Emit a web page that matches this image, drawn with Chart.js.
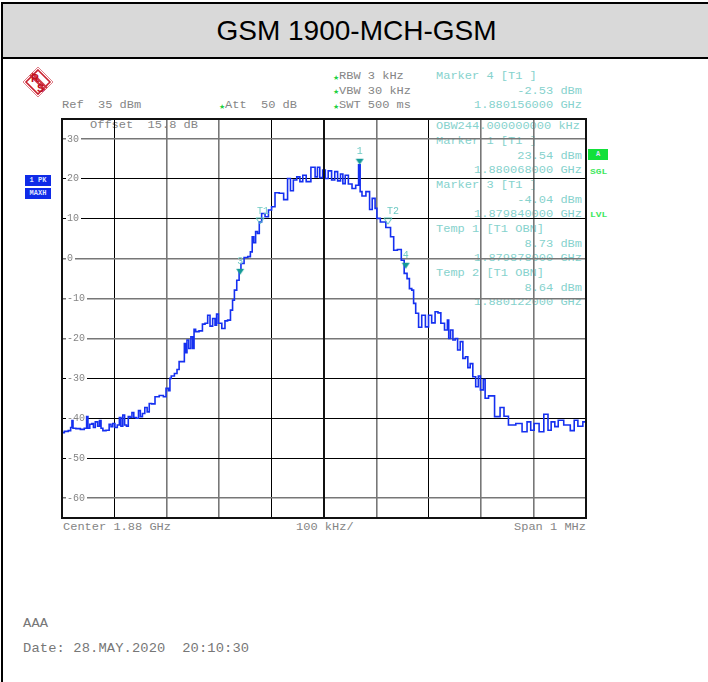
<!DOCTYPE html>
<html>
<head>
<meta charset="utf-8">
<title>GSM 1900-MCH-GSM</title>
<script src="https://cdn.jsdelivr.net/npm/chart.js@4/dist/chart.umd.min.js"></script>
<style>
html, body { margin: 0; padding: 0; background: #fff; }
#page { position: relative; width: 708px; height: 682px; overflow: hidden; }
#header { position: absolute; left: 1px; top: 2px; width: 707px; height: 53px; background: #d9d9d9;
  border-top: 2px solid #000; border-bottom: 2px solid #000; border-left: 2px solid #000; box-sizing: content-box;
  text-align: center; font: 28px "Liberation Sans", sans-serif; line-height: 53px; color: #000; }
#leftline { position: absolute; left: 1px; top: 2px; width: 2px; height: 680px; background: #000; }
#chart { position: absolute; left: 0; top: 0; z-index: 2; }
#logo { position: absolute; left: 22px; top: 66px; }
.t { position: absolute; white-space: pre; font: 10px "Liberation Mono", monospace; line-height: 12px; color: #858585;
  transform: translateY(-50%) scaleX(1.2); transform-origin: left center; z-index: 1; }
.r { transform-origin: right center; }
.c { color: #86d2cd; }
.star { position: absolute; font: 7px "DejaVu Sans", sans-serif; color: #22d040; line-height: 8px; transform: translateY(-50%); }
.big { font-size: 13px; line-height: 14px; color: #777; transform: translateY(-50%) scaleX(1.06); letter-spacing: 0.1px; }
.box { position: absolute; background: #0f2be8; color: #dfe4ff; font: bold 7px "Liberation Mono", monospace; text-align: center; }
.g { color: #3fe860; font: bold 8px "Liberation Mono", monospace; position: absolute; line-height: 8px; transform: translateY(-50%) scaleX(1.2); transform-origin: left center; }
</style>
</head>
<body>
<div id="page">
  <div id="header">GSM 1900-MCH-GSM</div>
  <div id="leftline"></div>
  <svg id="logo" width="32" height="32" viewBox="0 0 32 32">
    <path d="M16 1 L31 16 L16 31 L1 16 Z" fill="#fff" stroke="#e0808a" stroke-width="1"/>
    <path d="M16 4 L28 16 L16 28 L4 16 Z" fill="none" stroke="#c8202e" stroke-width="1.6"/>
    <path d="M9 8 L24 23" stroke="#d03a46" stroke-width="5"/>
    <path d="M9 8 L24 23" stroke="#fff" stroke-width="0.8" stroke-dasharray="1.4 1.4"/>
    <text x="9" y="16" font-family="Liberation Sans" font-weight="bold" font-size="11" fill="#c0101e">R</text>
    <text x="15" y="26" font-family="Liberation Sans" font-weight="bold" font-size="11" fill="#c0101e">S</text>
  </svg>
  <div class="box" style="left:25px;top:175px;width:26px;height:11px;line-height:11px;">1 PK</div>
  <div class="box" style="left:25px;top:188px;width:26px;height:11px;line-height:11px;">MAXH</div>
  <div class="box" style="left:588px;top:149px;width:20px;height:11px;line-height:11px;background:#12e03a;">A</div>
  <div class="g" style="left:590px;top:172px;">SGL</div>
  <div class="g" style="left:590px;top:215px;">LVL</div>
  <canvas id="chart" width="708" height="682"></canvas>
</div>

<script>
// spectrum trace, offset from 1.88 GHz in kHz and level in dBm
const traceFreq = [
  -500, -491, -485, -482, -480, -478, -469, -461, -454, -452, -449, -445, -441, -439, -434, -430, -427, -424, -420, -412,
  -408, -405, -401, -397, -392, -389, -386, -382, -379, -375, -372, -368, -365, -361, -356, -352, -349, -344, -340, -335,
  -332, -326, -319, -310, -303, -300, -294, -294, -289, -282, -279, -274, -267, -266, -263, -260, -256, -252, -249, -247,
  -243, -234, -230, -224, -220, -215, -210, -206, -204, -199, -191, -187, -181, -176, -173, -169, -164, -160, -157, -148,
  -143, -138, -136, -132, -129, -125, -122, -116, -109, -103, -97, -90, -81, -73, -66, -62, -55, -49, -43, -38,
  -30, -20, -14, -11, -5, 0, 5, 11, 18, 23, 29, 34, 38, 43, 50, 57, 64, 68, 70, 75,
  85, 89, 95, 100, 102, 113, 123, 131, 135, 145, 150, 156, 161, 165, 170, 172, 178, 183, 190, 197,
  202, 209, 215, 220, 226, 234, 237, 239, 244, 248, 253, 257, 263, 267, 273, 276, 282, 286, 293, 296,
  301, 307, 308, 320, 331, 341, 346, 358, 374, 382, 393, 396, 406, 415, 424, 431, 436, 445, 449, 466,
  474, 481, 488, 500
];
const traceLevel = [
  -43.6, -43.3, -43.1, -42.3, -40.6, -42.5, -42.6, -42.8, -42.5, -39.6, -42.5, -41.5, -41.3, -42.3, -40.9, -42.0, -40.6, -42.5, -43.1, -43.0,
  -41.5, -42.1, -41.3, -42.3, -41.7, -39.8, -42.0, -39.2, -41.7, -42.0, -39.6, -39.8, -38.6, -39.8, -40.0, -38.1, -39.6, -38.8, -37.3, -38.4,
  -36.3, -36.4, -34.6, -34.3, -34.6, -32.5, -33.1, -30.0, -29.4, -28.8, -27.8, -25.8, -25.8, -21.3, -23.6, -20.4, -22.5, -19.6, -22.5, -17.7,
  -18.3, -18.1, -16.4, -16.2, -14.2, -16.9, -15.0, -16.7, -13.9, -16.2, -17.5, -15.6, -15.4, -12.9, -10.4, -7.9, -5.4, -2.9, -1.2, 0.3,
  0.5, 1.7, 5.5, 4.0, 6.8, 6.3, 9.2, 11.3, 10.5, 12.2, 13.0, 16.5, 16.4, 14.8, 20.1, 17.0, 19.7, 20.5, 19.3, 20.9,
  19.3, 22.9, 20.5, 22.9, 20.3, 22.2, 20.1, 22.0, 19.7, 21.8, 19.5, 21.2, 18.8, 20.9, 18.7, 17.6, 18.4, 23.5, 16.8, 15.7,
  16.8, 12.3, 15.1, 12.6, 10.1, 9.2, 7.8, 5.5, 2.1, 2.3, -0.4, -3.7, -5.0, -7.5, -7.9, -11.2, -13.7, -17.2, -14.2, -17.1,
  -14.2, -16.1, -13.3, -13.6, -16.2, -17.9, -15.4, -20.0, -17.9, -20.4, -20.0, -22.9, -20.8, -25.0, -24.6, -27.3, -26.3, -29.6, -32.1, -29.4,
  -32.9, -30.3, -35.0, -34.4, -39.6, -37.3, -39.5, -41.7, -41.3, -43.4, -40.9, -43.0, -41.3, -43.4, -39.0, -43.0, -40.9, -42.1, -40.5, -41.7,
  -43.1, -40.5, -42.0, -40.9
];

const solidMarkerFreq = [68, -160, 156];
const solidMarkerLevel = [23.54, -4.04, -2.53];
const solidMarkerNames = ["1", "3", "4"];
const tempMarkerFreq = [-122, 122];
const tempMarkerLevel = [8.73, 8.64];
const tempMarkerNames = ["T1", "T2"];

const levelTicks = [30, 20, 10, 0, -10, -20, -30, -40, -50, -60];
const freqTicks = [-500, -400, -300, -200, -100, 0, 100, 200, 300, 400, 500];
const softFreqLines = [-300, -200, 100, 300, 400];
const softLevelLines = [30, 0, -10, -20, -60];

// everything around the plot
const readouts = [
  [62, 106, "Ref  35 dBm", ""],
  [225, 106, "Att  50 dB", ""],
  [339, 77, "RBW 3 kHz", ""],
  [339, 92, "VBW 30 kHz", ""],
  [339, 106, "SWT 500 ms", ""],
  [90, 126, "Offset  15.8 dB", ""],
  [436, 77, "Marker 4 [T1 ]", "c"],
  [436, 127, "OBW244.000000000 kHz", "c"],
  [436, 142, "Marker 1 [T1 ]", "c"],
  [436, 186, "Marker 3 [T1 ]", "c"],
  [436, 230, "Temp 1 [T1 OBN]", "c"],
  [436, 274, "Temp 2 [T1 OBN]", "c"],
  [63, 528, "Center 1.88 GHz", ""],
  [296, 528, "100 kHz/", ""],
  [23, 624, "AAA", "big"],
  [23, 649, "Date: 28.MAY.2020  20:10:30", "big"]
];
const rightReadouts = [
  [582, 92, "-2.53 dBm", "c"],
  [582, 106, "1.880156000 GHz", "c"],
  [582, 157, "23.54 dBm", "c"],
  [582, 171, "1.880068000 GHz", "c"],
  [582, 201, "-4.04 dBm", "c"],
  [582, 215, "1.879840000 GHz", "c"],
  [582, 245, "8.73 dBm", "c"],
  [582, 259, "1.879878000 GHz", "c"],
  [582, 289, "8.64 dBm", "c"],
  [582, 303, "1.880122000 GHz", "c"],
  [586, 528, "Span 1 MHz", ""]
];
const page = document.getElementById("page");

for (const [x, y, str, cls] of readouts) {
  const el = document.createElement("div");
  el.className = "t " + cls;
  el.style.left = x + "px";
  el.style.top = y + "px";
  el.textContent = str;
  page.appendChild(el);
}
for (const [x, y, str, cls] of rightReadouts) {
  const el = document.createElement("div");
  el.className = "t r " + cls;
  el.style.right = (708 - x) + "px";
  el.style.top = y + "px";
  el.textContent = str;
  page.appendChild(el);
}
for (const [x, y] of [[219, 107], [333, 78], [333, 92], [333, 107]]) {
  const el = document.createElement("div");
  el.className = "star";
  el.style.left = x + "px";
  el.style.top = y + "px";
  el.textContent = "★";
  page.appendChild(el);
}

// triangle whose tip sits on the middle of the image, so it points at the value
function makeMarker(filled) {
  const c = document.createElement("canvas");
  c.width = 12;
  c.height = 14;
  const g = c.getContext("2d");
  g.beginPath();
  g.moveTo(2, 1);
  g.lineTo(10, 1);
  g.lineTo(6, 7);
  g.closePath();
  if (filled) {
    g.fillStyle = "#149a96";
    g.fill();
  } else {
    g.strokeStyle = "#55c4bc";
    g.lineWidth = 1;
    g.stroke();
  }
  return c;
}

function toPoints(xs, ys) {
  return xs.map((x, i) => ({ x: x, y: ys[i] }));
}

const markerText = {
  id: "markerText",
  afterDatasetsDraw(chart) {
    const { ctx, scales } = chart;
    ctx.save();
    ctx.font = '10px "Liberation Mono", monospace';
    ctx.fillStyle = "#6fcac4";
    ctx.textAlign = "center";
    solidMarkerNames.forEach((name, i) => {
      ctx.fillText(name, scales.x.getPixelForValue(solidMarkerFreq[i]), scales.y.getPixelForValue(solidMarkerLevel[i]) - 11);
    });
    tempMarkerNames.forEach((name, i) => {
      const dx = i === 0 ? 3 : 5;
      ctx.fillText(name, scales.x.getPixelForValue(tempMarkerFreq[i]) + dx, scales.y.getPixelForValue(tempMarkerLevel[i]) - 10);
    });
    ctx.restore();
  }
};

const plotFrame = {
  id: "plotFrame",
  afterDraw(chart) {
    const { ctx, chartArea, scales } = chart;
    ctx.save();
    ctx.strokeStyle = "#111";
    ctx.lineWidth = 2;
    ctx.strokeRect(chartArea.left, chartArea.top, chartArea.width, chartArea.height);
    const mid = scales.x.getPixelForValue(0);
    ctx.beginPath();
    ctx.moveTo(mid, chartArea.top);
    ctx.lineTo(mid, chartArea.bottom);
    ctx.stroke();
    ctx.restore();
  }
};

new Chart(document.getElementById("chart"), {
  type: "scatter",
  data: {
    datasets: [
      {
        label: "Trace",
        type: "line",
        data: toPoints(traceFreq, traceLevel),
        borderColor: "#1530f0",
        borderWidth: 1.6,
        pointRadius: 0,
        stepped: "middle",
        order: 2
      },
      {
        label: "Markers",
        data: toPoints(solidMarkerFreq, solidMarkerLevel),
        pointStyle: makeMarker(true),
        order: 1
      },
      {
        label: "Temp markers",
        data: toPoints(tempMarkerFreq, tempMarkerLevel),
        pointStyle: makeMarker(false),
        order: 1
      }
    ]
  },
  options: {
    responsive: false,
    animation: false,
    layout: { padding: { left: 62, right: 122, top: 119, bottom: 164 } },
    plugins: { legend: { display: false }, tooltip: { enabled: false }, title: { display: false } },
    scales: {
      x: {
        type: "linear",
        min: -500,
        max: 500,
        afterBuildTicks: (axis) => { axis.ticks = freqTicks.map((v) => ({ value: v })); },
        ticks: { display: false },
        border: { display: false },
        grid: {
          drawTicks: false,
          lineWidth: (c) => (softFreqLines.includes(c.tick.value) ? 1.6 : 1),
          color: (c) => (softFreqLines.includes(c.tick.value) ? "#777" : "#000")
        }
      },
      y: {
        type: "linear",
        min: -65,
        max: 35,
        afterBuildTicks: (axis) => { axis.ticks = levelTicks.map((v) => ({ value: v })); },
        afterFit: (axis) => { axis.width = 0; },
        ticks: {
          mirror: true,
          padding: 5,
          color: "#858585",
          font: { family: '"Liberation Mono", monospace', size: 10 },
          showLabelBackdrop: true,
          backdropColor: "#fff",
          backdropPadding: { left: 1, right: 2, top: 0, bottom: 0 }
        },
        border: { display: false },
        grid: {
          drawTicks: false,
          lineWidth: (c) => (softLevelLines.includes(c.tick.value) ? 1.6 : 1),
          color: (c) => (softLevelLines.includes(c.tick.value) ? "#777" : "#000")
        }
      }
    }
  },
  plugins: [markerText, plotFrame]
});
</script>
</body>
</html>
